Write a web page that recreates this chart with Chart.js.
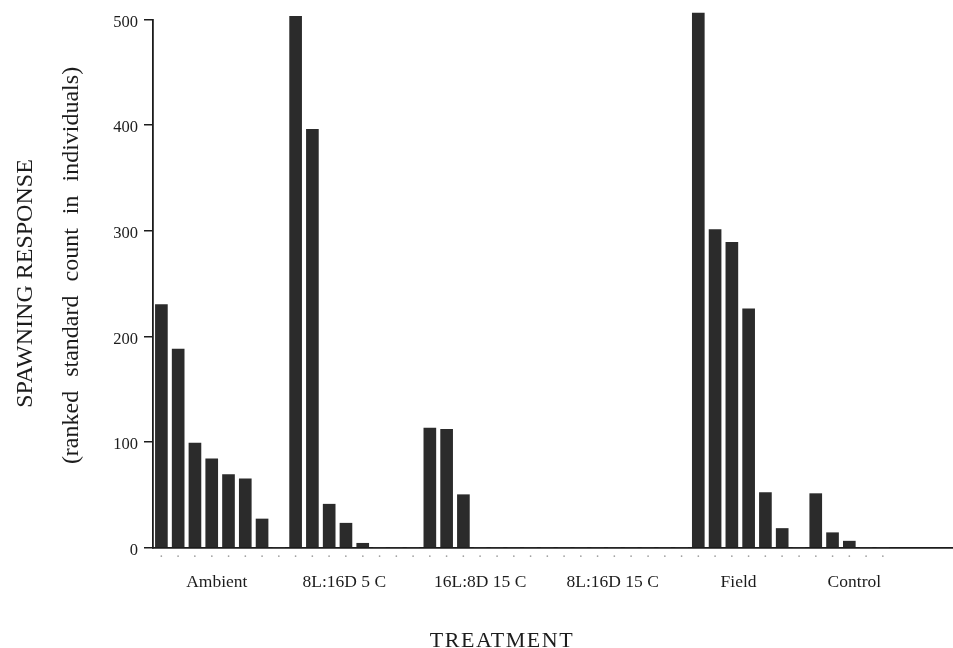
<!DOCTYPE html>
<html>
<head>
<meta charset="utf-8">
<script src="https://cdn.jsdelivr.net/npm/chart.js@4.4.0/dist/chart.umd.min.js"></script>
<style>
  html, body { margin: 0; background: #fff; }
  canvas { display: block; }
</style>
</head>
<body>
<canvas id="spawn" width="953" height="648"></canvas>
<script>
// Treatment names, in plotted order
const treatments = ['Ambient', '8L:16D 5 C', '16L:8D 15 C', '8L:16D 15 C', 'Field', 'Control'];

// Ranked standard counts per replicate
const ambient = [230, 188, 99, 84, 69, 65, 27, 0];
const short5C = [503, 396, 41, 23, 4, 0, 0, 0];
const long15C = [113, 112, 50, 0, 0, 0, 0, 0];
const short15C = [0, 0, 0, 0, 0, 0, 0, 0];
const field = [506, 301, 289, 226, 52, 18, 0];
const control = [51, 14, 6, 0, 0];

// Axis ticks
const yTicks = [0, 100, 200, 300, 400, 500];
const treatmentLabelAt = [3.3, 10.9, 19.0, 26.9, 34.4, 41.3];

const ink = '#1c1c1c';
const serif = "'Liberation Serif', 'Times New Roman', serif";

// One bar per replicate, side by side along the axis
const allCounts = [].concat(ambient, short5C, long15C, short15C, field, control);
const replicateSlots = allCounts.map((v, i) => i);
const points = allCounts.map((v, i) => ({ x: i, y: v }));

const xMin = -0.5;
const xMax = 47.18;

// Axis titles drawn straight onto the canvas
const axisTitles = {
    id: 'axisTitles',
    afterDraw(chart) {
        const ctx = chart.ctx;
        const mid = (chart.chartArea.top + chart.chartArea.bottom) / 2;
        ctx.save();
        ctx.fillStyle = ink;
        ctx.textAlign = 'center';
        ctx.textBaseline = 'alphabetic';

        ctx.save();
        ctx.font = '24px ' + serif;
        ctx.translate(31.5, mid);
        ctx.rotate(-Math.PI / 2);
        ctx.fillText('SPAWNING RESPONSE', 0, 0);
        ctx.restore();

        ctx.save();
        ctx.font = '24px ' + serif;
        ctx.wordSpacing = '8px';
        ctx.translate(78, mid - 18);
        ctx.rotate(-Math.PI / 2);
        ctx.fillText('(ranked standard count in individuals)', 0, 0);
        ctx.restore();

        ctx.font = '22px ' + serif;
        ctx.letterSpacing = '1.5px';
        ctx.fillText('TREATMENT', 502, 646.5);
        ctx.restore();
    }
};

new Chart(document.getElementById('spawn'), {
    type: 'bar',
    data: {
        datasets: [{
            data: points,
            backgroundColor: '#2b2b2b',
            borderWidth: 0,
            barThickness: 12,
            clip: false
        }]
    },
    options: {
        responsive: false,
        animation: false,
        layout: { padding: { top: 19.5, left: 0, right: 0, bottom: 0 } },
        plugins: {
            legend: { display: false },
            tooltip: { enabled: false }
        },
        scales: {
            x: {
                type: 'linear',
                position: 'bottom',
                offset: false,
                min: xMin,
                max: xMax,
                grid: { display: false, offset: false },
                border: { display: true, color: ink, width: 1.8 },
                afterBuildTicks: s => { s.ticks = replicateSlots.map(v => ({ value: v })); },
                ticks: {
                    autoSkip: false,
                    maxRotation: 0,
                    padding: -7,
                    color: '#a0a0a0',
                    font: { family: serif, size: 14 },
                    callback: () => '·'
                },
                afterFit: s => { s.height = 16; }
            },
            x2: {
                type: 'linear',
                position: 'bottom',
                weight: 1,
                offset: false,
                min: xMin,
                max: xMax,
                grid: { display: false, offset: false },
                border: { display: false },
                afterBuildTicks: s => { s.ticks = treatmentLabelAt.map(v => ({ value: v })); },
                ticks: {
                    autoSkip: false,
                    maxRotation: 0,
                    padding: 0,
                    color: ink,
                    font: { family: serif, size: 17.5 },
                    callback: (v, i) => treatments[i]
                },
                afterFit: s => { s.height = 84.5; }
            },
            y: {
                min: 0,
                max: 500,
                afterBuildTicks: s => { s.ticks = yTicks.map(v => ({ value: v })); },
                grid: { drawOnChartArea: false, tickLength: 9, color: ink, lineWidth: 1.5 },
                border: { color: ink, width: 1.8 },
                ticks: {
                    padding: 6,
                    labelOffset: 3,
                    color: ink,
                    font: { family: serif, size: 16.5 }
                },
                afterFit: s => { s.width = 153; }
            }
        }
    },
    plugins: [axisTitles]
});
</script>
</body>
</html>
